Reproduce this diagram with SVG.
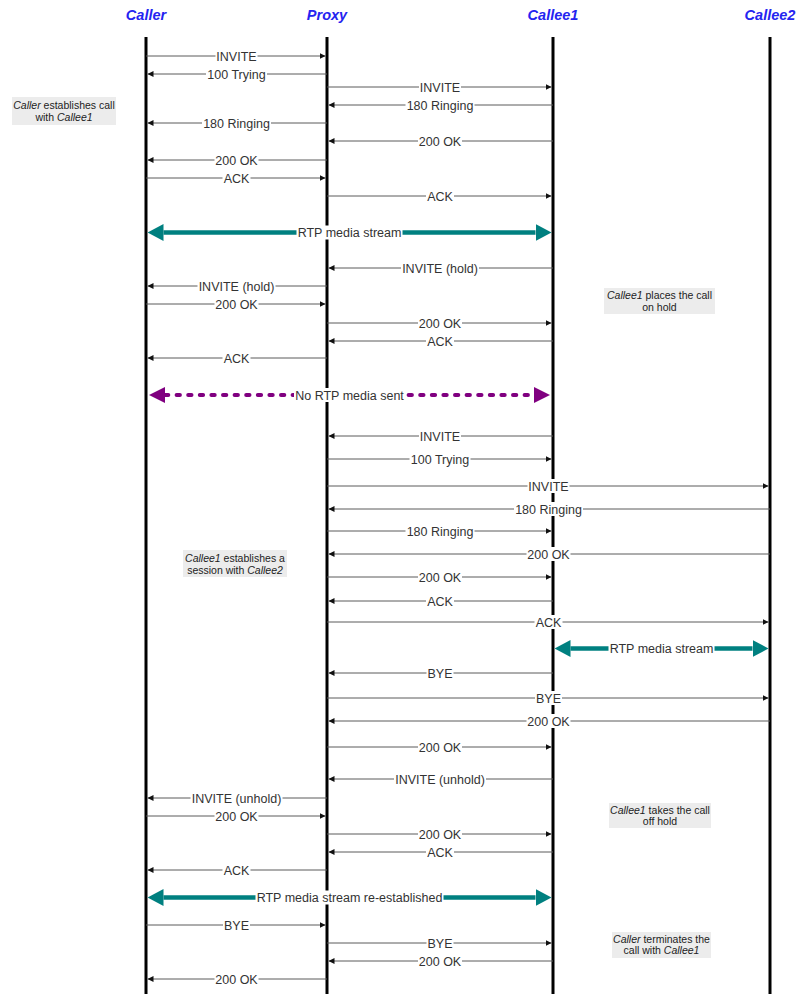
<svg xmlns="http://www.w3.org/2000/svg" width="799" height="994" viewBox="0 0 799 994">
<style>
.hdr{font-family:"Liberation Sans",Arial,sans-serif;font-size:14.5px;font-weight:bold;font-style:italic;fill:#2424f0;text-anchor:middle}
.life{stroke:#000;stroke-width:3}
.msg{stroke:#5a5a5a;stroke-width:1;fill:none;marker-end:url(#ah)}
.bg{fill:#fff}
.lbl{font-family:"Liberation Sans",Arial,sans-serif;font-size:12.5px;fill:#333;text-anchor:middle}
.rtp{stroke:#008080;stroke-width:4.5;marker-start:url(#bigT);marker-end:url(#bigT)}
.norpt{stroke:#800080;stroke-width:4;stroke-linecap:round;stroke-dasharray:3.3 8.3;marker-start:url(#bigP);marker-end:url(#bigP)}
.nbox{fill:#ececec}
.ntxt{font-family:"Liberation Sans",Arial,sans-serif;font-size:10.5px;fill:#222;text-anchor:middle}
.it{font-style:italic}
</style>
<defs>
<marker id="ah" viewBox="0 0 6 6" markerWidth="6" markerHeight="6" refX="6" refY="3" orient="auto" markerUnits="userSpaceOnUse"><path d="M0,0 L6,3 L0,6 z" fill="#111"/></marker>
<marker id="bigT" viewBox="0 0 16 17" markerWidth="16" markerHeight="17" refX="0" refY="8.5" orient="auto-start-reverse" markerUnits="userSpaceOnUse"><path d="M0,0 L16,8.5 L0,17 z" fill="#008080"/></marker>
<marker id="bigP" viewBox="0 0 16 16" markerWidth="16" markerHeight="16" refX="0" refY="8" orient="auto-start-reverse" markerUnits="userSpaceOnUse"><path d="M0,0 L16,8 L0,16 z" fill="#800080"/></marker>
</defs>
<rect width="799" height="994" fill="#fff"/>

<g id="caller"><text class="hdr" x="146" y="20">Caller</text><line class="life" x1="146" y1="37" x2="146" y2="994"/></g>
<g id="proxy"><text class="hdr" x="327" y="20">Proxy</text><line class="life" x1="327" y1="37" x2="327" y2="994"/></g>
<g id="callee1"><text class="hdr" x="553" y="20">Callee1</text><line class="life" x1="553" y1="37" x2="553" y2="994"/></g>
<g id="callee2"><text class="hdr" x="770" y="20">Callee2</text><line class="life" x1="770" y1="37" x2="770" y2="994"/></g>

<g id="connectors">
<line class="msg" x1="146" y1="56" x2="325.5" y2="56"/><rect class="bg" x="215.5" y="49" width="42" height="14"/><text class="lbl" x="236.5" y="60.5">INVITE</text>
<line class="msg" x1="327" y1="74" x2="147.5" y2="74"/><rect class="bg" x="206" y="67" width="61" height="14"/><text class="lbl" x="236.5" y="78.5">100 Trying</text>
<line class="msg" x1="327" y1="87" x2="551.5" y2="87"/><rect class="bg" x="419" y="80" width="42" height="14"/><text class="lbl" x="440" y="91.5">INVITE</text>
<line class="msg" x1="553" y1="105" x2="328.5" y2="105"/><rect class="bg" x="405.5" y="98" width="69" height="14"/><text class="lbl" x="440" y="109.5">180 Ringing</text>
<line class="msg" x1="327" y1="123" x2="147.5" y2="123"/><rect class="bg" x="202" y="116" width="69" height="14"/><text class="lbl" x="236.5" y="127.5">180 Ringing</text>
<line class="msg" x1="553" y1="141" x2="328.5" y2="141"/><rect class="bg" x="418" y="134" width="44" height="14"/><text class="lbl" x="440" y="145.5">200 OK</text>
<line class="msg" x1="327" y1="160" x2="147.5" y2="160"/><rect class="bg" x="214.5" y="153" width="44" height="14"/><text class="lbl" x="236.5" y="164.5">200 OK</text>
<line class="msg" x1="146" y1="178" x2="325.5" y2="178"/><rect class="bg" x="222.5" y="171" width="28" height="14"/><text class="lbl" x="236.5" y="182.5">ACK</text>
<line class="msg" x1="327" y1="196" x2="551.5" y2="196"/><rect class="bg" x="426" y="189" width="28" height="14"/><text class="lbl" x="440" y="200.5">ACK</text>

<line class="rtp" x1="163.5" y1="232.5" x2="535.5" y2="232.5"/><rect class="bg" x="296.5" y="225.5" width="106" height="14"/><text class="lbl" x="349.5" y="237">RTP media stream</text>

<line class="msg" x1="553" y1="268" x2="328.5" y2="268"/><rect class="bg" x="401" y="261" width="78" height="14"/><text class="lbl" x="440" y="272.5">INVITE (hold)</text>
<line class="msg" x1="327" y1="286" x2="147.5" y2="286"/><rect class="bg" x="197.5" y="279" width="78" height="14"/><text class="lbl" x="236.5" y="290.5">INVITE (hold)</text>
<line class="msg" x1="146" y1="304" x2="325.5" y2="304"/><rect class="bg" x="214.5" y="297" width="44" height="14"/><text class="lbl" x="236.5" y="308.5">200 OK</text>
<line class="msg" x1="327" y1="323" x2="551.5" y2="323"/><rect class="bg" x="418" y="316" width="44" height="14"/><text class="lbl" x="440" y="327.5">200 OK</text>
<line class="msg" x1="553" y1="341" x2="328.5" y2="341"/><rect class="bg" x="426" y="334" width="28" height="14"/><text class="lbl" x="440" y="345.5">ACK</text>
<line class="msg" x1="327" y1="358" x2="147.5" y2="358"/><rect class="bg" x="222.5" y="351" width="28" height="14"/><text class="lbl" x="236.5" y="362.5">ACK</text>

<line class="norpt" x1="165" y1="395" x2="534" y2="395"/><rect class="bg" x="294" y="388" width="111" height="14"/><text class="lbl" x="349.5" y="399.5">No RTP media sent</text>

<line class="msg" x1="553" y1="436" x2="328.5" y2="436"/><rect class="bg" x="419" y="429" width="42" height="14"/><text class="lbl" x="440" y="440.5">INVITE</text>
<line class="msg" x1="327" y1="459" x2="551.5" y2="459"/><rect class="bg" x="409.5" y="452" width="61" height="14"/><text class="lbl" x="440" y="463.5">100 Trying</text>
<line class="msg" x1="327" y1="486" x2="768.5" y2="486"/><rect class="bg" x="527.5" y="479" width="42" height="14"/><text class="lbl" x="548.5" y="490.5">INVITE</text>
<line class="msg" x1="770" y1="509" x2="328.5" y2="509"/><rect class="bg" x="514" y="502" width="69" height="14"/><text class="lbl" x="548.5" y="513.5">180 Ringing</text>
<line class="msg" x1="327" y1="531" x2="551.5" y2="531"/><rect class="bg" x="405.5" y="524" width="69" height="14"/><text class="lbl" x="440" y="535.5">180 Ringing</text>
<line class="msg" x1="770" y1="554" x2="328.5" y2="554"/><rect class="bg" x="526.5" y="547" width="44" height="14"/><text class="lbl" x="548.5" y="558.5">200 OK</text>
<line class="msg" x1="327" y1="577" x2="551.5" y2="577"/><rect class="bg" x="418" y="570" width="44" height="14"/><text class="lbl" x="440" y="581.5">200 OK</text>
<line class="msg" x1="553" y1="601" x2="328.5" y2="601"/><rect class="bg" x="426" y="594" width="28" height="14"/><text class="lbl" x="440" y="605.5">ACK</text>
<line class="msg" x1="327" y1="622" x2="768.5" y2="622"/><rect class="bg" x="534.5" y="615" width="28" height="14"/><text class="lbl" x="548.5" y="626.5">ACK</text>

<line class="rtp" x1="570.5" y1="648.5" x2="752.5" y2="648.5"/><rect class="bg" x="608.5" y="641.5" width="106" height="14"/><text class="lbl" x="661.5" y="653">RTP media stream</text>

<line class="msg" x1="553" y1="673" x2="328.5" y2="673"/><rect class="bg" x="426.5" y="666" width="27" height="14"/><text class="lbl" x="440" y="677.5">BYE</text>
<line class="msg" x1="327" y1="698" x2="768.5" y2="698"/><rect class="bg" x="535" y="691" width="27" height="14"/><text class="lbl" x="548.5" y="702.5">BYE</text>
<line class="msg" x1="770" y1="721" x2="328.5" y2="721"/><rect class="bg" x="526.5" y="714" width="44" height="14"/><text class="lbl" x="548.5" y="725.5">200 OK</text>
<line class="msg" x1="327" y1="747" x2="551.5" y2="747"/><rect class="bg" x="418" y="740" width="44" height="14"/><text class="lbl" x="440" y="751.5">200 OK</text>
<line class="msg" x1="553" y1="779" x2="328.5" y2="779"/><rect class="bg" x="394" y="772" width="92" height="14"/><text class="lbl" x="440" y="783.5">INVITE (unhold)</text>
<line class="msg" x1="327" y1="798" x2="147.5" y2="798"/><rect class="bg" x="190.5" y="791" width="92" height="14"/><text class="lbl" x="236.5" y="802.5">INVITE (unhold)</text>
<line class="msg" x1="146" y1="816" x2="325.5" y2="816"/><rect class="bg" x="214.5" y="809" width="44" height="14"/><text class="lbl" x="236.5" y="820.5">200 OK</text>
<line class="msg" x1="327" y1="834" x2="551.5" y2="834"/><rect class="bg" x="418" y="827" width="44" height="14"/><text class="lbl" x="440" y="838.5">200 OK</text>
<line class="msg" x1="553" y1="852" x2="328.5" y2="852"/><rect class="bg" x="426" y="845" width="28" height="14"/><text class="lbl" x="440" y="856.5">ACK</text>
<line class="msg" x1="327" y1="870" x2="147.5" y2="870"/><rect class="bg" x="222.5" y="863" width="28" height="14"/><text class="lbl" x="236.5" y="874.5">ACK</text>

<line class="rtp" x1="163.5" y1="897.5" x2="535.5" y2="897.5"/><rect class="bg" x="255.5" y="890.5" width="188" height="14"/><text class="lbl" x="349.5" y="902">RTP media stream re-established</text>

<line class="msg" x1="146" y1="925" x2="325.5" y2="925"/><rect class="bg" x="223" y="918" width="27" height="14"/><text class="lbl" x="236.5" y="929.5">BYE</text>
<line class="msg" x1="327" y1="943" x2="551.5" y2="943"/><rect class="bg" x="426.5" y="936" width="27" height="14"/><text class="lbl" x="440" y="947.5">BYE</text>
<line class="msg" x1="553" y1="961" x2="328.5" y2="961"/><rect class="bg" x="418" y="954" width="44" height="14"/><text class="lbl" x="440" y="965.5">200 OK</text>
<line class="msg" x1="327" y1="979" x2="147.5" y2="979"/><rect class="bg" x="214.5" y="972" width="44" height="14"/><text class="lbl" x="236.5" y="983.5">200 OK</text>
</g>

<g id="note1"><rect class="nbox" x="12" y="97" width="104" height="28"/><text class="ntxt" x="64" y="109"><tspan class="it">Caller</tspan> establishes call</text><text class="ntxt" x="64" y="121">with <tspan class="it">Callee1</tspan></text></g>
<g id="note2"><rect class="nbox" x="604" y="288" width="111" height="26"/><text class="ntxt" x="659.5" y="299"><tspan class="it">Callee1</tspan> places the call</text><text class="ntxt" x="659.5" y="310.5">on hold</text></g>
<g id="note3"><rect class="nbox" x="183" y="550" width="104" height="27"/><text class="ntxt" x="235" y="562"><tspan class="it">Callee1</tspan> establishes a</text><text class="ntxt" x="235" y="573.5">session with <tspan class="it">Callee2</tspan></text></g>
<g id="note4"><rect class="nbox" x="609" y="803" width="102" height="25"/><text class="ntxt" x="660" y="813.5"><tspan class="it">Callee1</tspan> takes the call</text><text class="ntxt" x="660" y="824.5">off hold</text></g>
<g id="note5"><rect class="nbox" x="612" y="932" width="99" height="26"/><text class="ntxt" x="661.5" y="942.5"><tspan class="it">Caller</tspan> terminates the</text><text class="ntxt" x="661.5" y="954">call with <tspan class="it">Callee1</tspan></text></g>
</svg>
